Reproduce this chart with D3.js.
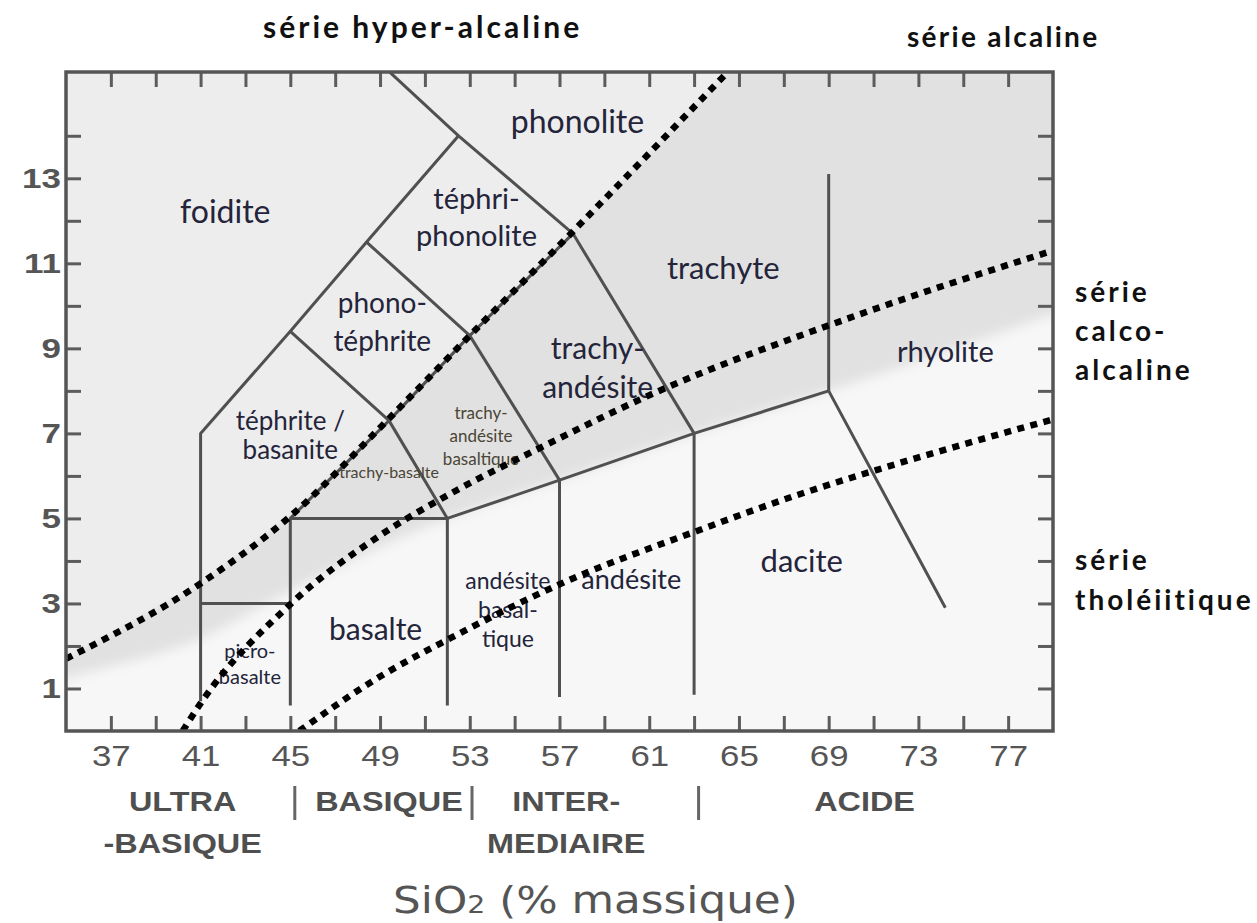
<!DOCTYPE html>
<html>
<head>
<meta charset="utf-8">
<script src="https://cdn.jsdelivr.net/npm/d3@7"></script>
<style>
  body { margin: 0; background: #fff; }
</style>
</head>
<body>
<div id="chart"></div>
<script>
// axis ticks
const xTickValues = d3.range(37, 78, 2);
const xTickLabels = [37, 41, 45, 49, 53, 57, 61, 65, 69, 73, 77];
const yTickValues = d3.range(1, 15);
const yTickLabels = [1, 3, 5, 7, 9, 11, 13];

// TAS field boundaries, [SiO2, Na2O+K2O]
const fieldLines = [
    [[41, 0.7], [41, 7], [45, 9.4], [48.4, 11.5], [52.5, 14]],
    [[48.4, 16], [52.5, 14], [57.6, 11.7], [63, 7], [63, 0.85]],
    [[45, 9.4], [49.4, 7.3], [52, 5], [52, 0.6]],
    [[48.4, 11.5], [53, 9.3], [57, 5.9], [57, 0.8]],
    [[45, 0.6], [45, 5], [49.4, 7.3], [53, 9.3], [57.6, 11.7]],
    [[41, 3], [45, 3]],
    [[45, 5], [52, 5], [57, 5.9], [63, 7], [69, 8], [74.2, 2.9]],
    [[69, 8], [69, 13.1]]
];

// series dividing lines (dotted)
const hyperAlkLine = [[35, 1.7], [41, 3.47], [45, 5.05], [49.4, 7.35], [53, 9.3], [57.6, 11.75], [64.5, 15.5]];
const alkLine = [[40.2, 0], [41, 0.65], [45, 2.98], [49, 4.6], [52.2, 5.6], [56.1, 6.65], [61.4, 7.99], [69.9, 9.71], [79, 11.3]];
const tholLine = [[45.4, 0], [49, 1.28], [52.2, 2.2], [57.3, 3.52], [63.1, 4.7], [67.6, 5.55], [71.2, 6.15], [79, 7.33]];

// lower edge of the grey (alkaline) band
const shadeEdge = [[35, 1.24], [41, 2.18], [45, 3.3], [52, 5], [57, 5.9], [63, 7], [69, 8], [79, 9.8]];

// rock names, anchored at [SiO2, alkali] of the first line's baseline
const fieldLabels = [
    { id: "foid", lines: ["foidite"], at: [42.1, 11.94] },
    { id: "phon", lines: ["phonolite"], at: [57.8, 14.06] },
    { id: "tphon", lines: ["téphri-", "phonolite"], at: [53.3, 12.27] },
    { id: "trachyte", lines: ["trachyte"], at: [64.3, 10.62] },
    { id: "tand", lines: ["trachy-", "andésite"], at: [58.7, 8.74] },
    { id: "photeph", lines: ["phono-", "téphrite"], at: [49.1, 9.82] },
    { id: "teph", lines: ["téphrite /", "basanite"], at: [45.0, 7.09] },
    { id: "tbas", lines: ["trachy-basalte"], at: [49.4, 5.94] },
    { id: "btand", lines: ["trachy-", "andésite", "basaltique"], at: [53.5, 7.35] },
    { id: "band", lines: ["andésite", "basal-", "tique"], at: [54.7, 3.35] },
    { id: "and", lines: ["andésite"], at: [60.2, 3.33] },
    { id: "bas", lines: ["basalte"], at: [48.8, 2.15] },
    { id: "picro", lines: ["picro-", "basalte"], at: [43.2, 1.71] },
    { id: "dac", lines: ["dacite"], at: [67.8, 3.75] },
    { id: "rhy", lines: ["rhyolite"], at: [74.2, 8.69] }
];

const silicaClasses = [
    { lines: ["ULTRA", "-BASIQUE"], at: 40.2 },
    { lines: ["BASIQUE"], at: 49.4 },
    { lines: ["INTER-", "MEDIAIRE"], at: 57.3 },
    { lines: ["ACIDE"], at: 70.6 }
];
const silicaSeparators = [45.2, 53.1, 63.2];

const labelStyle = {
    foid: { size: 32, lh: 0 }, phon: { size: 32, lh: 0 }, tphon: { size: 29, lh: 37 },
    trachyte: { size: 31, lh: 0 }, tand: { size: 30, lh: 39 }, photeph: { size: 28, lh: 38 },
    teph: { size: 26, lh: 29 }, tbas: { size: 16, lh: 0, fill: "#4b4536" },
    btand: { size: 17, lh: 23, fill: "#4b4536" }, band: { size: 23, lh: 29 },
    and: { size: 27, lh: 0 }, bas: { size: 30, lh: 0 }, picro: { size: 20, lh: 26 },
    dac: { size: 31, lh: 0 }, rhy: { size: 29, lh: 0 }
};

const W = 1257, H = 923;
const x = d3.scaleLinear().domain([35, 79]).range([66, 1053]);
const y = d3.scaleLinear().domain([0, 15.5]).range([731, 72]);

const svg = d3.select("#chart").append("svg")
    .attr("width", W)
    .attr("height", H)
    .attr("font-family", "Lato, 'Open Sans', sans-serif");

const defs = svg.append("defs");
defs.append("clipPath").attr("id", "plot-clip")
    .append("rect")
    .attr("x", x(35)).attr("y", y(15.5))
    .attr("width", x(79) - x(35)).attr("height", y(0) - y(15.5));
defs.append("filter").attr("id", "soft").attr("x", "-10%").attr("y", "-10%").attr("width", "120%").attr("height", "120%")
    .append("feGaussianBlur").attr("stdDeviation", 2);
defs.append("filter").attr("id", "softer").attr("x", "-10%").attr("y", "-10%").attr("width", "120%").attr("height", "120%")
    .append("feGaussianBlur").attr("stdDeviation", 6);

const plot = svg.append("g").attr("clip-path", "url(#plot-clip)");

// background shading
plot.append("rect")
    .attr("x", x(35)).attr("y", y(15.5))
    .attr("width", x(79) - x(35)).attr("height", y(0) - y(15.5))
    .attr("fill", "#ededed");

const poly = d3.line().x(d => x(d[0])).y(d => y(d[1]));
// everything below the hyper-alkaline line is the darker grey
const midZone = [[33, 1.1]].concat(hyperAlkLine, [[66, 17], [81, 17], [81, -1], [33, -1]]);
plot.append("path")
    .attr("d", poly(midZone) + "Z")
    .attr("fill", "#e1e1e1")
    .attr("filter", "url(#soft)");

// sub-alkaline field, almost white
const lowZone = d3.area()
    .x(d => x(d[0]))
    .y0(y(-1))
    .y1(d => y(d[1]))
    .curve(d3.curveMonotoneX);
const edge = [[32, 0.75]].concat(shadeEdge, [[82, 10.35]]);
plot.append("path")
    .attr("d", lowZone(edge))
    .attr("fill", "#f7f7f7")
    .attr("filter", "url(#softer)");

// field boundaries
plot.selectAll(".field")
    .data(fieldLines)
    .enter()
    .append("path")
    .attr("class", "field")
    .attr("d", poly)
    .attr("fill", "none")
    .attr("stroke", "#505050")
    .attr("stroke-width", 3)
    .attr("stroke-linejoin", "round");

// rock names
const lab = plot.selectAll(".lab")
    .data(fieldLabels)
    .enter()
    .append("text")
    .attr("class", "lab")
    .attr("text-anchor", "middle")
    .attr("font-size", d => labelStyle[d.id].size + "px")
    .attr("fill", d => labelStyle[d.id].fill || "#24243a");
lab.selectAll("tspan")
    .data(d => d.lines.map((t, i) => ({ t, i, d })))
    .enter()
    .append("tspan")
    .attr("x", e => x(e.d.at[0]))
    .attr("y", e => y(e.d.at[1]) + e.i * labelStyle[e.d.id].lh)
    .text(e => e.t);

// dotted series lines
const curve = d3.line().x(d => x(d[0])).y(d => y(d[1])).curve(d3.curveMonotoneX);
plot.selectAll(".series")
    .data([hyperAlkLine, alkLine, tholLine])
    .enter()
    .append("path")
    .attr("class", "series")
    .attr("d", curve)
    .attr("fill", "none")
    .attr("stroke", "#000")
    .attr("stroke-width", 6.5)
    .attr("stroke-dasharray", "7 6.5");

// ticks (inward) on all four sides
const tickStyle = g => {
    g.select(".domain").remove();
    g.selectAll(".tick line").attr("stroke", "#5c5c5c").attr("stroke-width", 3);
    g.selectAll(".tick text").remove();
};
svg.append("g").attr("transform", `translate(0,${y(0)})`)
    .call(d3.axisBottom(x).tickValues(xTickValues).tickSize(-15)).call(tickStyle);
svg.append("g").attr("transform", `translate(0,${y(15.5)})`)
    .call(d3.axisTop(x).tickValues(xTickValues).tickSize(-15)).call(tickStyle);
svg.append("g").attr("transform", `translate(${x(35)},0)`)
    .call(d3.axisLeft(y).tickValues(yTickValues).tickSize(-15)).call(tickStyle);
svg.append("g").attr("transform", `translate(${x(79)},0)`)
    .call(d3.axisRight(y).tickValues(yTickValues).tickSize(-15)).call(tickStyle);

// frame
svg.append("rect")
    .attr("x", x(35)).attr("y", y(15.5))
    .attr("width", x(79) - x(35)).attr("height", y(0) - y(15.5))
    .attr("fill", "none")
    .attr("stroke", "#555")
    .attr("stroke-width", 3.5);

// tick labels
const numStyle = g => {
    g.attr("font-family", "'Liberation Sans', Arial, sans-serif");
    g.select(".domain").remove();
    g.selectAll(".tick line").remove();
    g.selectAll(".tick text")
        .attr("fill", "#555")
        .attr("font-size", "29px");
};
svg.append("g").attr("transform", `translate(0,${y(0)})`)
    .call(d3.axisBottom(x).tickValues(xTickLabels).tickSize(0).tickPadding(14))
    .call(numStyle)
    .selectAll(".tick text").attr("transform", "scale(1.2,1)");
svg.append("g").attr("transform", `translate(${x(35)},0)`)
    .call(d3.axisLeft(y).tickValues(yTickLabels).tickSize(0).tickPadding(4))
    .call(numStyle)
    .selectAll(".tick text")
    .attr("font-weight", "bold")
    .attr("font-size", "28px")
    .attr("transform", "scale(1.25,1)");

// silica classes under the axis
const cls = svg.append("g")
    .attr("font-family", "'Liberation Sans', Arial, sans-serif")
    .attr("font-weight", "bold")
    .attr("font-size", "27px")
    .attr("fill", "#4f4f4f");
silicaClasses.forEach(c => {
    const g = cls.append("g").attr("transform", `translate(${x(c.at)},0) scale(1.2,1)`);
    c.lines.forEach((t, i) => {
        g.append("text")
            .attr("text-anchor", "middle")
            .attr("y", 811 + i * 42)
            .text(t);
    });
});
cls.selectAll(".sep")
    .data(silicaSeparators)
    .enter()
    .append("line")
    .attr("x1", d => x(d)).attr("x2", d => x(d))
    .attr("y1", 786).attr("y2", 820)
    .attr("stroke", "#666")
    .attr("stroke-width", 3);

// axis title
svg.append("text")
    .attr("transform", `translate(${x(58.6)},913) scale(1.18,1)`)
    .attr("text-anchor", "middle")
    .attr("font-family", "'DejaVu Sans', Verdana, sans-serif")
    .attr("font-size", "37px")
    .attr("fill", "#555")
    .html('SiO<tspan font-size="24px">2</tspan> (% massique)');

// series names
const seriesText = svg.append("g")
    .attr("font-weight", "bold")
    .attr("fill", "#111");
seriesText.append("text").attr("x", 263).attr("y", 38).attr("font-size", "30px")
    .attr("letter-spacing", "3px").text("série hyper-alcaline");
seriesText.append("text").attr("x", 907).attr("y", 47).attr("font-size", "28px")
    .attr("letter-spacing", "2.3px").text("série alcaline");
[["série", 302], ["calco-", 341], ["alcaline", 380], ["série", 570], ["tholéiitique", 610]].forEach(([t, yy]) => {
    seriesText.append("text").attr("x", 1075).attr("y", yy).attr("font-size", "28px")
        .attr("letter-spacing", "3px").text(t);
});
</script>
</body>
</html>
